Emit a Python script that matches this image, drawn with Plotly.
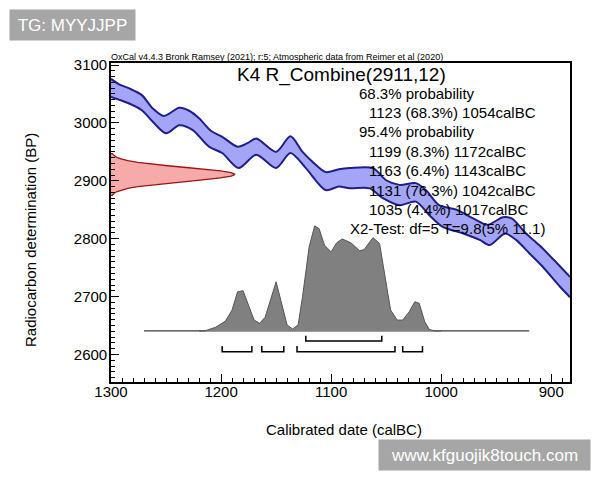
import plotly.graph_objects as go

# ---------------- data ----------------
# Calibration curve (IntCal20) band, years calBC and BP
cal_upper_year = [1300, 1293, 1284, 1272, 1262, 1252, 1238, 1229, 1220, 1209, 1199, 1185, 1176, 1168,
                  1150, 1137, 1126, 1117, 1105, 1093, 1083, 1062, 1050, 1038, 1023, 1014, 1002, 986,
                  971, 958, 944, 936, 923, 911, 895, 883]
cal_upper_bp = [3076, 3067, 3060, 3048, 3025, 3012, 3026, 3021, 3008, 2986, 2976, 2959, 2965, 2973,
                2950, 2977, 2950, 2933, 2915, 2920, 2922, 2922, 2901, 2893, 2896, 2884, 2858, 2850,
                2835, 2824, 2837, 2835, 2809, 2789, 2758, 2734]
cal_lower_year = [1300, 1284, 1272, 1262, 1250, 1238, 1226, 1211, 1199, 1184, 1168, 1150, 1137, 1123,
                  1105, 1093, 1083, 1065, 1053, 1038, 1023, 1011, 999, 980, 965, 956, 942, 932, 920,
                  908, 892, 883]
cal_lower_bp = [3045, 3034, 3022, 3002, 2982, 2996, 2988, 2959, 2948, 2922, 2945, 2922, 2948, 2922,
                2884, 2890, 2887, 2887, 2870, 2858, 2864, 2841, 2821, 2809, 2798, 2789, 2809, 2798,
                2775, 2752, 2717, 2699]

# Radiocarbon measurement R_Combine(2911,12): BP values and relative density
meas_bp = [2947, 2944, 2941, 2938, 2935, 2932, 2929, 2926, 2923, 2920, 2917, 2914, 2911,
           2908, 2905, 2902, 2899, 2896, 2893, 2890, 2887, 2884, 2881, 2878, 2875]
meas_density = [0.011, 0.023, 0.044, 0.080, 0.135, 0.216, 0.325, 0.458, 0.607, 0.755, 0.882, 0.969, 1.0,
                0.969, 0.882, 0.755, 0.607, 0.458, 0.325, 0.216, 0.135, 0.080, 0.044, 0.023, 0.011]

# Calibrated posterior distribution (relative probability)
post_year = [1220, 1215, 1205, 1196, 1190, 1185, 1180, 1176, 1170, 1165, 1160, 1150, 1144, 1140,
             1135, 1130, 1126, 1120, 1115, 1111, 1106, 1100, 1095, 1090, 1082, 1074, 1070, 1062,
             1056, 1052, 1046, 1040, 1035, 1029, 1024, 1020, 1015, 1011, 1006, 1000]
post_prob = [0.0, 0.0, 0.035, 0.095, 0.20, 0.373, 0.383, 0.263, 0.104, 0.073, 0.13, 0.468, 0.231, 0.057,
             0.019, 0.057, 0.326, 0.80, 1.0, 0.975, 0.816, 0.753, 0.839, 0.877, 0.839, 0.763, 0.775, 0.889,
             0.832, 0.563, 0.20, 0.104, 0.104, 0.184, 0.278, 0.263, 0.089, 0.016, 0.0, 0.0]
baseline_years = [1270, 920]

# Highest posterior density ranges
range68 = [(1123, 1054)]
range95 = [(1199, 1172), (1163, 1143), (1131, 1042), (1035, 1017)]

x_ticks = [1300, 1200, 1100, 1000, 900]
y_ticks = [2600, 2700, 2800, 2900, 3000, 3100]

header = "OxCal v4.4.3 Bronk Ramsey (2021); r:5; Atmospheric data from Reimer et al (2020)"
title = "K4 R_Combine(2911,12)"
info_lines = [
    ("68.3% probability", 0),
    ("1123 (68.3%) 1054calBC", 1),
    ("95.4% probability", 0),
    ("1199 (8.3%) 1172calBC", 1),
    ("1163 (6.4%) 1143calBC", 1),
    ("1131 (76.3%) 1042calBC", 1),
    ("1035 (4.4%) 1017calBC", 1),
    ("X2-Test: df=5 T=9.8(5% 11.1)", -1),
]

FONT = "Liberation Sans, Arial, sans-serif"

# ---------------- figure ----------------
fig = go.Figure()

# calibration band (upper then lower filled to upper), smooth lines
fig.add_trace(go.Scatter(x=cal_upper_year, y=cal_upper_bp, mode="lines",
                         line=dict(color="rgb(30,30,140)", width=2, shape="spline", smoothing=0.8),
                         hoverinfo="skip", showlegend=False))
fig.add_trace(go.Scatter(x=cal_lower_year, y=cal_lower_bp, mode="lines", fill="tonexty",
                         fillcolor="rgb(165,165,248)",
                         line=dict(color="rgb(30,30,140)", width=2, shape="spline", smoothing=0.8),
                         hoverinfo="skip", showlegend=False))

# measurement (red) on x2 / y
red_x = [0] + meas_density + [0]
red_y = [meas_bp[0]] + meas_bp + [meas_bp[-1]]
fig.add_trace(go.Scatter(x=red_x, y=red_y, xaxis="x2", yaxis="y", fill="toself",
                         fillcolor="rgb(246,170,170)", mode="lines",
                         line=dict(color="rgb(160,20,20)", width=1.3),
                         hoverinfo="skip", showlegend=False))

# posterior (grey) on x / y2
fig.add_trace(go.Scatter(x=baseline_years, y=[0, 0], xaxis="x", yaxis="y2", mode="lines",
                         line=dict(color="rgb(60,60,60)", width=1.2), hoverinfo="skip", showlegend=False))
fig.add_trace(go.Scatter(x=post_year, y=post_prob, xaxis="x", yaxis="y2", fill="toself",
                         fillcolor="rgb(128,128,128)", mode="lines",
                         line=dict(color="rgb(85,85,85)", width=1),
                         hoverinfo="skip", showlegend=False))

# range brackets
def brackets(ranges, level, tip):
    xs, ys = [], []
    for a, b in ranges:
        xs += [a, a, b, b, None]
        ys += [tip, level, level, tip, None]
    return xs, ys

for rng, lev, tip in [(range68, -0.095, -0.045), (range95, -0.197, -0.143)]:
    bx, by = brackets(rng, lev, tip)
    fig.add_trace(go.Scatter(x=bx, y=by, xaxis="x", yaxis="y2", mode="lines",
                             line=dict(color="black", width=1.5), hoverinfo="skip", showlegend=False))

axis_common = dict(showgrid=False, zeroline=False, showline=True, linecolor="black", linewidth=1.6,
                   mirror=True, ticks="inside", ticklen=8, tickwidth=1.2, tickcolor="black",
                   tickfont=dict(family=FONT, size=15, color="black"),
                   minor=dict(ticks="inside", ticklen=4, tickwidth=1, tickcolor="black", dtick=10))

fig.update_layout(
    width=600, height=480,
    margin=dict(l=111, r=30, t=63, b=98),
    paper_bgcolor="white", plot_bgcolor="white",
    font=dict(family=FONT, color="black"),
    xaxis=dict(range=[1300, 883], tickvals=x_ticks, ticklabelstandoff=-5, **axis_common),
    yaxis=dict(range=[2552.5, 3103.5], tickvals=y_ticks, ticklabelstandoff=-1, **axis_common),
    xaxis2=dict(overlaying="x", anchor="y", range=[0, 3.70], visible=False),
    yaxis2=dict(overlaying="y", anchor="x", range=[-0.486, 2.552], visible=False),
)

ann = []
def px2paper(px, py):
    return (px - 111) / 459.0, (382 - py) / 319.0

# header
hx, hy = px2paper(109, 57)
ann.append(dict(text="<u>" + header + "</u>", x=hx, y=hy, xref="paper", yref="paper",
                xanchor="left", yanchor="middle", showarrow=False, font=dict(size=9)))
# title
tx, ty = px2paper(341.5, 75)
ann.append(dict(text=title, x=tx, y=ty, xref="paper", yref="paper", xanchor="center",
                yanchor="middle", showarrow=False, font=dict(size=19)))
# info lines
line_y = [93.3, 112.7, 131.7, 151, 170, 190, 209.3, 228.3]
for (txt, indent), py in zip(info_lines, line_y):
    lx = {0: 358.3, 1: 368.3, -1: 349.3}[indent]
    ax, ay = px2paper(lx - 1, py)
    ann.append(dict(text=txt, x=ax, y=ay, xref="paper", yref="paper", xanchor="left",
                    yanchor="middle", showarrow=False, font=dict(size=15)))
# axis titles
xx, xy = px2paper(343.5, 429)
ann.append(dict(text="Calibrated date (calBC)", x=xx, y=xy, xref="paper", yref="paper",
                xanchor="center", yanchor="middle", showarrow=False, font=dict(size=15)))
yx, yy = px2paper(30, 240)
ann.append(dict(text="Radiocarbon determination (BP)", x=yx, y=yy, xref="paper", yref="paper",
                xanchor="center", yanchor="middle", showarrow=False, textangle=-90, font=dict(size=15)))
# watermarks
w1x, w1y = px2paper(72.5, 25)
ann.append(dict(text="TG: MYYJJPP", x=w1x, y=w1y, xref="paper", yref="paper", xanchor="center",
                yanchor="middle", showarrow=False, bgcolor="rgb(166,166,166)", width=125, height=30,
                borderpad=0, font=dict(size=17, color="white")))
w2x, w2y = px2paper(484.5, 455)
ann.append(dict(text="www.kfguojik8touch.com", x=w2x, y=w2y, xref="paper", yref="paper",
                xanchor="center", yanchor="middle", showarrow=False, bgcolor="rgb(166,166,166)",
                width=211, height=30, borderpad=0, font=dict(size=17, color="white")))

fig.update_layout(annotations=ann)

fig.write_html("out.html")
